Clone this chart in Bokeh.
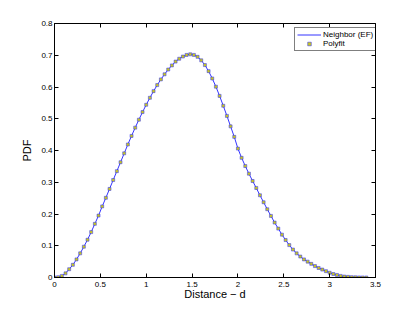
from bokeh.plotting import figure
from bokeh.models import LinearAxis, FixedTicker, Range1d, Legend, LegendItem
from bokeh.embed import file_html
from bokeh.resources import INLINE

# ---- data ----
d_values = [0.00, 0.04, 0.08, 0.12, 0.16, 0.20, 0.24, 0.28, 0.32, 0.36,
            0.40, 0.44, 0.48, 0.52, 0.56, 0.60, 0.64, 0.68, 0.72, 0.76,
            0.80, 0.84, 0.88, 0.92, 0.96, 1.00, 1.04, 1.08, 1.12, 1.16,
            1.20, 1.24, 1.28, 1.32, 1.36, 1.40, 1.44, 1.48, 1.52, 1.56,
            1.60, 1.64, 1.68, 1.72, 1.76, 1.80, 1.84, 1.88, 1.92, 1.96,
            2.00, 2.04, 2.08, 2.12, 2.16, 2.20, 2.24, 2.28, 2.32, 2.36,
            2.40, 2.44, 2.48, 2.52, 2.56, 2.60, 2.64, 2.68, 2.72, 2.76,
            2.80, 2.84, 2.88, 2.92, 2.96, 3.00, 3.04, 3.08, 3.12, 3.16,
            3.20, 3.24, 3.28, 3.32, 3.36, 3.40]
neighbor_pdf = [0.000, 0.001, 0.005, 0.013, 0.026, 0.040, 0.057, 0.076, 0.097, 0.119,
                0.143, 0.169, 0.195, 0.224, 0.251, 0.279, 0.307, 0.335, 0.363, 0.391,
                0.419, 0.446, 0.472, 0.497, 0.521, 0.544, 0.566, 0.587, 0.606, 0.624,
                0.640, 0.655, 0.668, 0.680, 0.689, 0.696, 0.701, 0.703, 0.701, 0.695,
                0.684, 0.669, 0.650, 0.627, 0.601, 0.572, 0.541, 0.509, 0.476, 0.443,
                0.406, 0.377, 0.351, 0.327, 0.304, 0.282, 0.259, 0.237, 0.215, 0.194,
                0.173, 0.154, 0.135, 0.118, 0.102, 0.088, 0.076, 0.066, 0.057, 0.050,
                0.043, 0.036, 0.030, 0.025, 0.020, 0.015, 0.011, 0.008, 0.005, 0.003,
                0.002, 0.001, 0.0006, 0.0003, 0.0001, 0.000]
polyfit_pdf = [0.000, 0.001, 0.005, 0.013, 0.026, 0.040, 0.057, 0.076, 0.097, 0.119,
               0.143, 0.169, 0.195, 0.224, 0.251, 0.279, 0.307, 0.335, 0.363, 0.391,
               0.419, 0.446, 0.472, 0.497, 0.521, 0.544, 0.566, 0.587, 0.606, 0.624,
               0.640, 0.655, 0.668, 0.680, 0.689, 0.696, 0.701, 0.703, 0.701, 0.695,
               0.684, 0.669, 0.650, 0.627, 0.601, 0.572, 0.541, 0.509, 0.476, 0.443,
               0.406, 0.377, 0.351, 0.327, 0.304, 0.282, 0.259, 0.237, 0.215, 0.194,
               0.173, 0.154, 0.135, 0.118, 0.102, 0.088, 0.076, 0.066, 0.057, 0.050,
               0.043, 0.036, 0.030, 0.025, 0.020, 0.015, 0.011, 0.008, 0.005, 0.003,
               0.002, 0.001, 0.0006, 0.0003, 0.0001, 0.000]

x_ticks = [0, 0.5, 1, 1.5, 2, 2.5, 3, 3.5]
x_tick_labels = ["0", "0.5", "1", "1.5", "2", "2.5", "3", "3.5"]
y_ticks = [0, 0.1, 0.2, 0.3, 0.4, 0.5, 0.6, 0.7, 0.8]
y_tick_labels = ["0", "0.1", "0.2", "0.3", "0.4", "0.5", "0.6", "0.7", "0.8"]

FONT = "Liberation Sans"

p = figure(width=407, height=304, output_backend="svg", toolbar_location=None,
           x_range=Range1d(0, 3.5), y_range=Range1d(0, 0.8),
           min_border_left=54, min_border_right=32, min_border_top=23, min_border_bottom=27,
           frame_width=321, frame_height=254)
p.grid.visible = False
p.outline_line_color = "black"
p.outline_line_width = 1
p.background_fill_color = "white"
p.border_fill_color = "white"

xo = {float(t): l for t, l in zip(x_ticks, x_tick_labels)}
yo = {float(t): l for t, l in zip(y_ticks, y_tick_labels)}

for ax in p.xaxis:
    ax.ticker = FixedTicker(ticks=x_ticks)
    ax.major_label_overrides = xo
for ax in p.yaxis:
    ax.ticker = FixedTicker(ticks=y_ticks)
    ax.major_label_overrides = yo

for ax in list(p.xaxis) + list(p.yaxis):
    ax.major_tick_in = 4
    ax.major_tick_out = 0
    ax.minor_tick_in = 0
    ax.minor_tick_out = 0
    ax.axis_line_color = "black"
    ax.major_tick_line_color = "black"
    ax.major_label_text_font = FONT
    ax.major_label_text_font_size = "8px"
    ax.major_label_text_color = "black"
    ax.axis_label_text_font = FONT
    ax.axis_label_text_font_size = "11px"
    ax.axis_label_text_font_style = "normal"
    ax.axis_label_text_color = "black"

p.xaxis.axis_label = "Distance \u2212 d"
p.yaxis.axis_label = "PDF"
p.xaxis.major_label_standoff = 4
p.yaxis.major_label_standoff = 2
p.xaxis.axis_label_standoff = -2
p.yaxis.axis_label_standoff = 5

top = LinearAxis(ticker=FixedTicker(ticks=x_ticks), major_label_text_font_size="8px",
                 major_label_text_color=None,
                 major_tick_in=4, major_tick_out=0, minor_tick_in=0, minor_tick_out=0,
                 axis_line_color=None, major_tick_line_color="black", major_label_standoff=0)
right = LinearAxis(ticker=FixedTicker(ticks=y_ticks), major_label_text_font_size="8px",
                   major_label_text_color=None,
                   major_tick_in=4, major_tick_out=0, minor_tick_in=0, minor_tick_out=0,
                   axis_line_color=None, major_tick_line_color="black", major_label_standoff=0)
p.add_layout(top, "above")
p.add_layout(right, "right")

r_line = p.line(d_values, neighbor_pdf, line_color="#3535ff", line_width=1)
r_pts = p.scatter(d_values, polyfit_pdf, marker="square", size=3,
                  line_color="#2a2aff", line_width=0.5, fill_color="#c8c820")

legend = Legend(items=[LegendItem(label="Neighbor (EF)", renderers=[r_line]),
                       LegendItem(label="Polyfit", renderers=[r_pts])],
                location=(240, 226), label_text_font=FONT, label_text_font_size="8px",
                label_text_color="black", glyph_width=24, glyph_height=9,
                label_height=9, spacing=0, padding=2, margin=0,
                label_standoff=2, border_line_color="black", border_line_width=1,
                background_fill_color="white", background_fill_alpha=1)
p.add_layout(legend)

open("out.html", "w").write(file_html(p, INLINE))
